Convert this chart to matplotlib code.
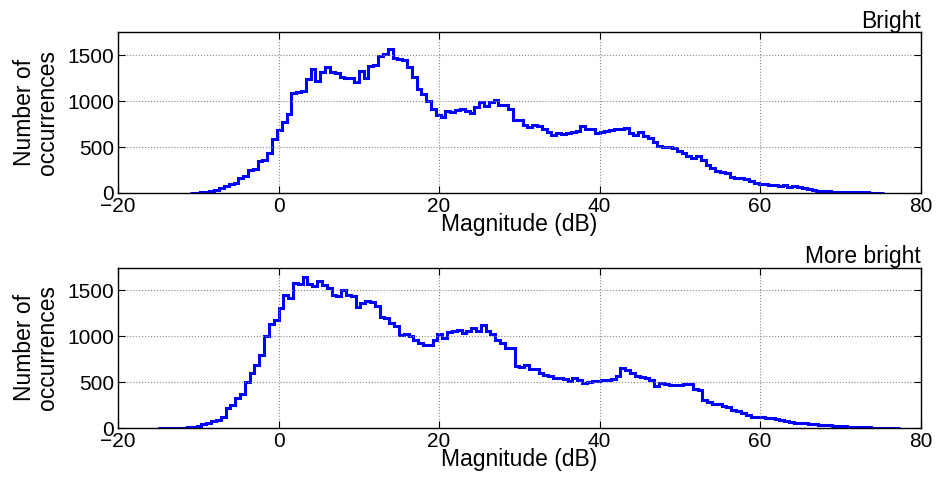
import numpy as np
import matplotlib
matplotlib.use('Agg')
import matplotlib.pyplot as plt

# bin layout of the two histograms (dB)
bin_width = 0.6
bright_start = -11.0
more_bright_start = -15.0

# counts per bin
bright_counts = [
    2, 4, 6, 10, 18, 30, 55, 75, 95, 112,
    160, 180, 255, 265, 345, 360, 440, 585, 690, 770,
    860, 1090, 1100, 1115, 1245, 1350, 1225, 1320, 1370, 1320,
    1310, 1265, 1255, 1250, 1210, 1330, 1250, 1385, 1400, 1495,
    1520, 1565, 1470, 1460, 1450, 1370, 1260, 1135, 1075, 1000,
    915, 850, 825, 890, 880, 910, 915, 890, 875, 940,
    990, 950, 990, 1010, 955, 960, 915, 800, 800, 740,
    715, 740, 730, 700, 660, 630, 650, 640, 650, 665,
    680, 725, 695, 700, 650, 670, 680, 690, 700, 695,
    705, 650, 630, 660, 625, 600, 560, 510, 505, 500,
    490, 460, 440, 400, 385, 400, 360, 310, 270, 245,
    230, 215, 175, 165, 160, 150, 130, 105, 100, 95,
    88, 85, 80, 82, 70, 75, 65, 55, 40, 32,
    25, 20, 18, 16, 15, 14, 13, 12, 10, 8,
    6, 4, 2, 1,
]

more_bright_counts = [
    1, 1, 2, 2, 3, 4, 6, 10, 20, 42,
    55, 78, 90, 125, 215, 250, 325, 370, 505, 600,
    690, 800, 1000, 1135, 1180, 1310, 1450, 1420, 1585, 1565,
    1645, 1575, 1545, 1600, 1560, 1530, 1455, 1440, 1500, 1450,
    1440, 1320, 1360, 1390, 1370, 1330, 1215, 1200, 1145, 1110,
    1010, 1020, 1005, 965, 930, 910, 900, 965, 1020, 985,
    1050, 1060, 1070, 1035, 1060, 1095, 1060, 1125, 1055, 1020,
    965, 930, 875, 870, 675, 670, 690, 640, 645, 600,
    575, 570, 546, 540, 530, 515, 546, 520, 490, 500,
    510, 515, 527, 520, 535, 565, 655, 630, 600, 565,
    555, 540, 520, 455, 490, 480, 468, 470, 470, 475,
    480, 420, 410, 310, 280, 262, 260, 240, 225, 200,
    190, 165, 145, 118, 125, 115, 110, 105, 100, 85,
    73, 65, 60, 55, 50, 45, 40, 36, 32, 28,
    24, 20, 18, 15, 12, 10, 8, 7, 5, 3,
    2, 1, 1, 0,
]

titles = ['Bright', 'More bright']
x_ticks = [-20, 0, 20, 40, 60, 80]
y_ticks = [0, 500, 1000, 1500]

plt.rcParams['font.family'] = ['Liberation Sans', 'DejaVu Sans']

fig = plt.figure(figsize=(9.4, 4.82), dpi=100)
ax_top = fig.add_axes([0.1255, 0.5996, 0.854, 0.333])
ax_bot = fig.add_axes([0.1255, 0.1120, 0.854, 0.333])

series = [(bright_start, bright_counts), (more_bright_start, more_bright_counts)]

for ax, (start, counts), title in zip([ax_top, ax_bot], series, titles):
    counts = np.array(counts)
    edges = start + bin_width * np.arange(len(counts) + 1)
    ax.stairs(counts, edges, color='#0000ff', linewidth=2.2)

    ax.set_xlim(-20, 80)
    ax.set_ylim(0, 1750)
    ax.set_xticks(x_ticks)
    ax.set_yticks(y_ticks)
    ax.tick_params(direction='in', top=True, right=True, length=5,
                   width=0.8, labelsize=15, pad=3)
    ax.grid(True, linestyle=':', color='#888888', linewidth=0.8)
    for s in ax.spines.values():
        s.set_linewidth(1.0)

    ax.set_xlabel('Magnitude (dB)', fontsize=16.5, labelpad=-2)
    ax.set_ylabel('Number of\noccurrences', fontsize=16.5, linespacing=0.95,
                  labelpad=6)
    ax.set_title(title, loc='right', fontsize=16.5, pad=3)

fig.savefig('out.png', dpi=100)
